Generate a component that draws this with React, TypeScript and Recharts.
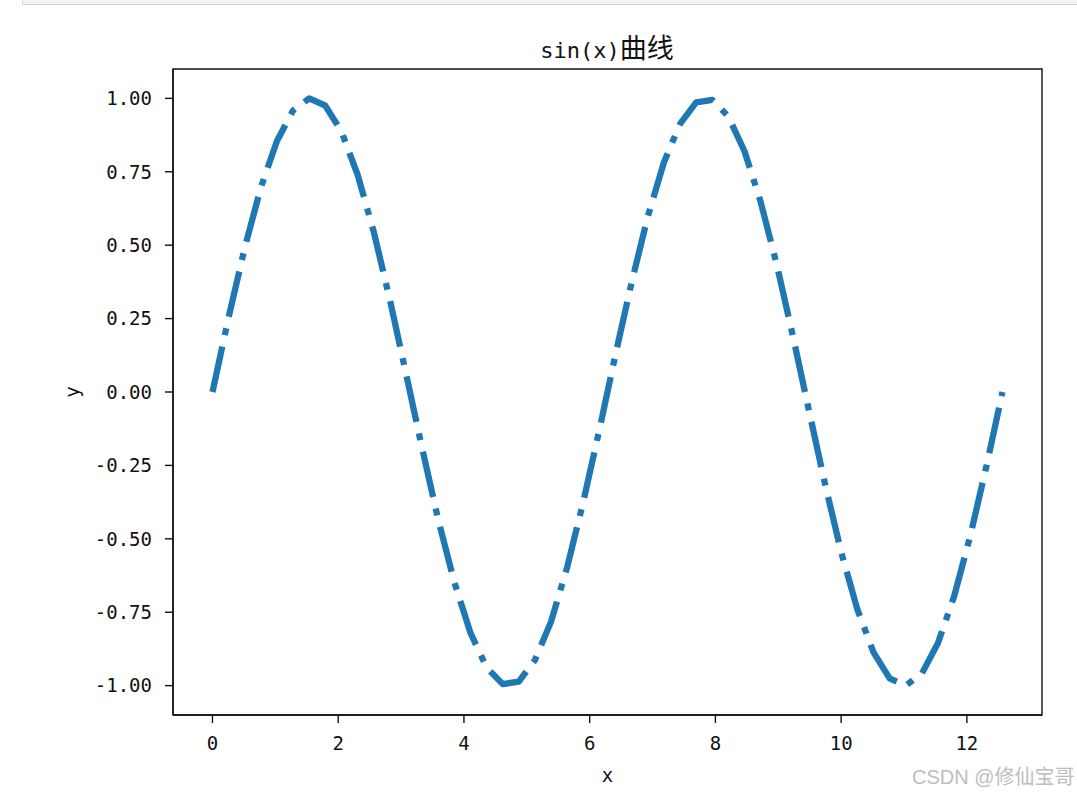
import React from "react";
import {
  LineChart,
  Line,
  XAxis,
  YAxis,
  ReferenceArea,
} from "recharts";

// sin(x) 采样点
const xValues = [
  0, 0.256, 0.513, 0.769, 1.026, 1.282, 1.539, 1.795, 2.052, 2.308, 2.565,
  2.821, 3.077, 3.334, 3.59, 3.847, 4.103, 4.36, 4.616, 4.873, 5.129, 5.386,
  5.642, 5.898, 6.155, 6.411, 6.668, 6.924, 7.181, 7.437, 7.694, 7.95, 8.207,
  8.463, 8.719, 8.976, 9.232, 9.489, 9.745, 10.002, 10.258, 10.515, 10.771,
  11.028, 11.284, 11.54, 11.797, 12.053, 12.31, 12.566,
];
const yValues = [
  0, 0.254, 0.491, 0.696, 0.855, 0.959, 1.0, 0.975, 0.887, 0.74, 0.546, 0.315,
  0.064, -0.191, -0.434, -0.648, -0.82, -0.938, -0.995, -0.986, -0.913, -0.782,
  -0.597, -0.374, -0.128, 0.128, 0.374, 0.597, 0.782, 0.913, 0.986, 0.995,
  0.938, 0.82, 0.648, 0.434, 0.191, -0.064, -0.315, -0.546, -0.74, -0.887,
  -0.975, -1.0, -0.959, -0.855, -0.696, -0.491, -0.254, 0,
];
const xTicks = [0, 2, 4, 6, 8, 10, 12];
const yTicks = [-1, -0.75, -0.5, -0.25, 0, 0.25, 0.5, 0.75, 1];
const xDomain = [-0.628, 13.195];
const yDomain = [-1.1, 1.1];

const data = xValues.map((x, i) => ({ x, y: yValues[i] }));

const tickFont = { fill: "#111", fontSize: 19, fontFamily: "DejaVu Sans Mono" };

export default function App() {
  return (
    <div style={{ position: "absolute", left: 0, top: 0, width: 1077, height: 796, background: "#fff" }}>
      {/* notebook 单元格的残留边 */}
      <div
        style={{
          position: "absolute",
          left: 22,
          top: 0,
          width: 1055,
          height: 4,
          background: "#f3f3f3",
          borderBottom: "1px solid #d4d4d4",
          borderLeft: "1px solid #dcdcdc",
        }}
      />
      <div
        style={{
          position: "absolute",
          left: 407,
          top: 32,
          width: 400,
          lineHeight: "30px",
          textAlign: "center",
          color: "#111",
          whiteSpace: "nowrap",
        }}
      >
        <span style={{ fontFamily: "DejaVu Sans Mono", fontSize: 22 }}>sin(x)</span>
        <span style={{ fontFamily: "Noto Sans CJK SC", fontSize: 27 }}>曲线</span>
      </div>
      <LineChart
        width={1077}
        height={796}
        data={data}
        margin={{ top: 69, right: 35, bottom: 0, left: 0 }}
      >
        <XAxis
          dataKey="x"
          type="number"
          domain={xDomain}
          ticks={xTicks}
          allowDataOverflow
          height={81}
          tick={tickFont}
          tickSize={8}
          tickMargin={14}
          axisLine={{ stroke: "#111", strokeWidth: 1.4 }}
          tickLine={{ stroke: "#111", strokeWidth: 1.4 }}
          label={{
            value: "x",
            position: "insideBottom",
            offset: 14,
            style: { fill: "#111", fontSize: 19, fontFamily: "DejaVu Sans Mono" },
          }}
        />
        <YAxis
          type="number"
          domain={yDomain}
          ticks={yTicks}
          allowDataOverflow
          width={173}
          tick={tickFont}
          tickSize={8}
          tickMargin={13}
          tickFormatter={(v: number) => v.toFixed(2)}
          axisLine={{ stroke: "#111", strokeWidth: 1.4 }}
          tickLine={{ stroke: "#111", strokeWidth: 1.4 }}
          label={{
            value: "y",
            angle: -90,
            position: "insideLeft",
            offset: 72,
            style: { fill: "#111", fontSize: 19, fontFamily: "DejaVu Sans Mono", textAnchor: "middle" },
          }}
        />
        <Line
          type="linear"
          dataKey="y"
          stroke="#1f77b4"
          strokeWidth={6.3}
          strokeDasharray="46.5 11.75 7 11.75"
          strokeLinecap="butt"
          strokeLinejoin="round"
          dot={false}
          activeDot={false}
          isAnimationActive={false}
        />
        <ReferenceArea
          x1={xDomain[0]}
          x2={xDomain[1]}
          y1={yDomain[0]}
          y2={yDomain[1]}
          fill="none"
          fillOpacity={0}
          stroke="#111"
          strokeWidth={1.4}
          strokeOpacity={1}
        />
      </LineChart>
      <div
        style={{
          position: "absolute",
          left: 912,
          top: 765,
          lineHeight: "25px",
          fontSize: 20,
          fontFamily: "Liberation Sans, Noto Sans CJK SC",
          color: "#bdbdbd",
          whiteSpace: "nowrap",
        }}
      >
        CSDN @修仙宝哥
      </div>
    </div>
  );
}
